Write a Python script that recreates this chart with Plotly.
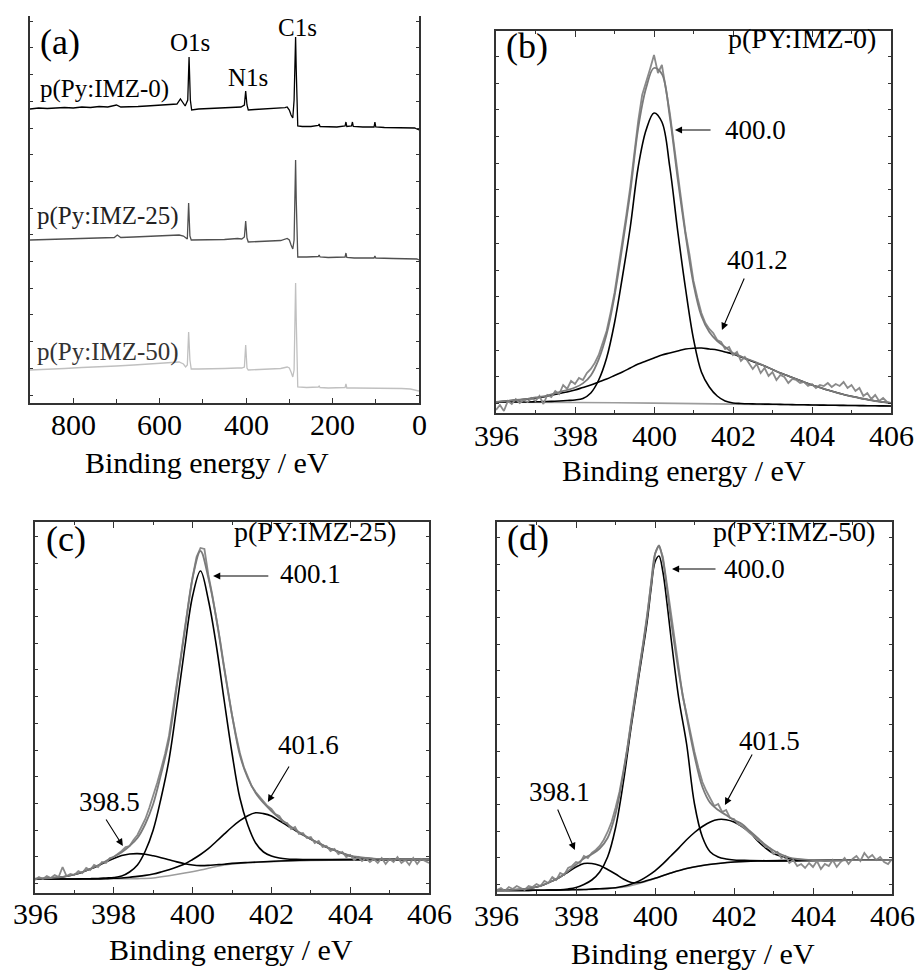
import plotly.graph_objects as go

FONT = "Liberation Serif, Times New Roman, serif"
W, H = 919, 972

# ---------------- Panel (a): survey spectra ----------------
sv0_x = [900, 880, 860, 840, 820, 800, 780, 760, 740, 720, 700, 690, 670, 650, 630, 610, 590, 570, 560, 552, 545, 541, 535, 532, 529, 526,
         510, 490, 470, 450, 430, 412, 404, 401, 398, 395, 380, 360, 340, 320, 310, 305, 300, 296, 292, 289, 287, 285.5, 284, 282.5, 280.5,
         270, 250, 233, 231, 229, 210, 190, 171, 169, 167, 156, 154, 152, 130, 104, 102, 100, 80, 60, 40, 20, 10, 5, 0]
sv0_y = [294, 295, 294.5, 295, 295.5, 295, 296, 295.5, 296.5, 296, 298, 296, 296, 296.5, 297, 297.5, 297.5, 298, 299, 304, 300, 297, 303, 346, 303, 293,
         294, 294.5, 295, 295, 295.5, 296, 298, 312, 298, 293, 293.5, 294, 294.5, 294.5, 295.3, 296, 293, 288, 285, 303, 343, 366, 333, 293, 277,
         276.5, 276.5, 277.5, 279, 276.5, 276, 276, 277, 281, 276.5, 277, 281, 276.5, 276, 276, 281, 276, 275.5, 275.5, 275, 275.5, 275, 274, 273]

sv25_x = [900, 860, 820, 780, 740, 705, 698, 690, 660, 620, 580, 555, 545, 540, 536, 533, 530, 527, 510, 480, 450, 420, 410, 404, 401, 398, 395,
          370, 340, 320, 305, 300, 296, 292, 289, 287, 285.5, 284, 282.5, 280.5, 260, 233, 231, 229, 210, 171, 169, 167, 150, 104, 102, 100,
          60, 20, 5, 0]
sv25_y = [163, 163.5, 164, 164.5, 165, 165.5, 168, 165.5, 166, 166.5, 167, 168, 167, 165, 164, 200, 167, 163, 163, 163.5, 163.5, 164.5, 164, 166, 182, 165, 161,
          161.5, 162, 162.5, 164.5, 163, 158, 154, 163, 203, 243, 203, 158, 146, 146, 146.5, 148, 146, 145.5, 146, 150, 145.5, 145, 145, 147, 145,
          144.5, 144.5, 144, 143]

sv50_x = [900, 860, 820, 780, 740, 700, 660, 620, 580, 555, 545, 540, 536, 533, 530, 527, 510, 480, 450, 420, 410, 404, 401, 398, 395,
          370, 340, 320, 305, 300, 296, 292, 289, 287, 285.5, 284, 282.5, 280.5, 260, 233, 231, 229, 210, 171, 169, 167, 150, 120, 80, 40, 20, 5, 0]
sv50_y = [33, 33.5, 34.5, 35.5, 36, 37, 38, 39, 40, 41, 39, 36, 38, 71, 43, 34, 34, 34, 34.5, 35, 35, 36, 58, 35, 33,
          33.5, 34, 34.5, 36, 35, 31, 26, 33, 83, 120, 83, 28, 16, 15.5, 16, 17, 15.5, 15, 15.5, 19, 15, 15, 15, 14.5, 14.5, 14, 13, 12]

# ---------------- common energy grids ----------------
E01 = [round(396 + 0.1 * i, 1) for i in range(101)]
E02 = [round(396 + 0.2 * i, 1) for i in range(51)]

# ---------------- Panel (b): p(PY:IMZ-0) ----------------
b_raw = [3, 8, 2, 12, 9, 14, 10, 13, 11, 15, 12, 17, 9, 18, 16, 22, 19, 28, 24, 32,
         29, 35, 33, 40, 44, 50, 58, 70, 82, 100, 120, 146, 170, 198, 226, 262, 292, 318, 330, 344,
         358, 340, 348, 326, 300, 270, 238, 210, 180, 158, 132, 115, 100, 90, 84, 80, 73, 71, 64, 66,
         58, 61, 52, 56, 50, 44, 49, 40, 45, 37, 41, 33, 38, 36, 30, 34, 33, 30, 31, 27,
         29, 25, 28, 27, 30, 26, 29, 27, 31, 25, 28, 22, 25, 17, 20, 14, 18, 12, 15, 11, 10]
b_env = [11, 11.8, 12.6, 13.4, 14.2, 15.5, 16.7, 18.7, 20.9, 23, 25.5, 29.6, 37.6, 53.7, 78.7, 117, 167, 221, 285, 325,
         345, 339, 296, 234, 178, 129, 97, 81, 72, 66, 60, 56.7, 53.5, 50.5, 47, 43.5, 40, 37, 34, 31,
         28, 25.5, 23, 20.7, 18.5, 16.7, 15, 13.5, 12, 11, 10]
b_main = [11, 11, 11, 11, 11, 11.2, 11.4, 11.6, 12, 12.5, 13, 14.5, 20, 33, 55, 90, 136, 186, 246, 283,
          300, 291, 246, 182, 124, 74, 41, 26, 17, 12, 10, 9.5, 9.2, 9, 8.9, 8.8, 8.6, 8.5, 8.3, 8.2,
          8, 7.9, 7.8, 7.7, 7.6, 7.5, 7.4, 7.3, 7.2, 7.1, 7]
b_broad = [11, 11.7, 12.5, 13.2, 14, 15, 16, 17.7, 19.5, 21, 23, 25.5, 28, 31, 34, 37.5, 41, 45, 49, 52,
           55, 58, 60, 62, 64, 64.8, 65, 64, 63, 61, 59, 56, 53, 50, 47, 43.5, 40, 37, 34, 31,
           28, 25.5, 23, 20.7, 18.5, 16.7, 15, 13.5, 12, 11, 10]
b_base_x = [396, 398, 400, 402, 404, 406]
b_base = [11, 10.5, 9.9, 8.9, 8, 7]

# ---------------- Panel (c): p(PY:IMZ-25) ----------------
c_raw = [13, 16, 14, 17, 15, 18, 16, 26, 17, 19, 18, 22, 20, 25, 23, 28, 26, 31, 30, 35,
         36, 39, 42, 46, 47, 53, 58, 66, 74, 85, 97, 110, 124, 139, 157, 182, 210, 236, 264, 290,
         316, 336, 345, 344, 318, 298, 277, 252, 226, 200, 178, 158, 140, 126, 116, 107, 101, 96, 91, 87,
         84, 79, 77, 71, 70, 64, 66, 59, 60, 55, 56, 50, 52, 46, 47, 42, 44, 39, 41, 36,
         38, 33, 36, 32, 35, 31, 34, 30, 35, 29, 34, 31, 36, 30, 33, 28, 35, 29, 34, 32, 30]
c_env = [14.3, 14.5, 14.9, 15.6, 16.8, 18.5, 21, 24, 27.7, 32, 36.3, 40.8, 47, 55, 69, 89, 119, 153, 207, 262,
         315, 342, 315, 275, 225, 178, 138, 115, 100, 90, 82, 75, 69, 63.5, 58.5, 54, 50, 46, 43, 40,
         37.5, 36, 35, 34.3, 34, 33.8, 33.6, 33.5, 33.5, 33.5, 33.5]
c_main = [14, 14, 14, 14, 14, 14, 14.2, 14.3, 14.5, 15, 15.5, 17, 21, 28, 42, 63, 95, 133, 187, 245,
          297, 322, 293, 248, 193, 140, 95, 68, 50, 41, 37, 35, 34, 33.7, 33.5, 33.5, 33.5, 33.5, 33.5, 33.5,
          33.5, 33.5, 33.5, 33.5, 33.5, 33.5, 33.5, 33.5, 33.5, 33.5, 33.5]
c_small_x = [396.0, 396.2, 396.4, 396.6, 396.8, 397.0, 397.2, 397.4, 397.6, 397.8, 398.0, 398.2, 398.4, 398.6, 398.8, 399.0,
             399.2, 399.4, 399.6, 399.8, 400.0, 400.2, 400.4, 400.6, 400.8, 401.0, 401.4, 401.8, 402.4, 403.0, 404.0, 406.0]
c_small = [14.3, 14.5, 14.9, 15.6, 16.8, 18.5, 20.8, 23.9, 27.3, 31.1, 34.5, 37.4, 39, 39.4, 38.8, 37.2,
           35.3, 33.2, 31.1, 29.3, 28, 27.4, 27.6, 28.2, 28.8, 29.6, 30.5, 31.2, 32.3, 33, 33.4, 33.5]
c_broad = [14, 14, 14, 14, 14, 14, 14, 14.1, 14.1, 14.2, 14.7, 15, 15.8, 16.6, 17.6, 19, 21, 23.3, 26, 29,
           33.5, 38.5, 44.3, 51.5, 58.8, 66, 72.3, 77.3, 80.2, 79.4, 77, 72.2, 67.5, 62.6, 58.1, 53.7, 49.7, 45.8, 42.8, 39.8,
           37, 35.5, 34.8, 34.2, 33.9, 33.7, 33.6, 33.5, 33.5, 33.5, 33.5]
c_base_x = [396, 397, 398, 398.6, 399, 399.4, 399.8, 400.2, 400.6, 401.0, 401.4, 401.8, 402.4, 403, 404, 406]
c_base = [14, 14, 14.2, 14.4, 15, 17.3, 20, 23, 26.5, 29, 30.3, 30.9, 32, 32.6, 33, 33.2]

# ---------------- Panel (d): p(PY:IMZ-50) ----------------
d_raw = [4, 6, 3, 7, 5, 8, 6, 4, 8, 7, 10, 8, 13, 11, 17, 14, 21, 19, 26, 28,
         32, 31, 38, 36, 41, 44, 48, 54, 62, 72, 86, 102, 123, 146, 174, 199, 225, 251, 279, 310,
         340, 349, 337, 310, 281, 252, 224, 198, 180, 160, 142, 126, 112, 103, 96, 88, 90, 82, 84, 76,
         75, 70, 68, 64, 61, 58, 54, 52, 47, 46, 40, 42, 36, 38, 31, 34, 28, 30, 26, 31,
         27, 33, 25, 30, 28, 34, 27, 32, 36, 30, 35, 38, 33, 41, 36, 39, 34, 37, 32, 30, 35]
d_env_x = [396.0, 396.2, 396.4, 396.6, 396.8, 397.0, 397.2, 397.4, 397.6, 397.8, 398.0, 398.2, 398.4, 398.6, 398.8, 399.0, 399.2, 399.4,
           399.6, 399.8, 399.9, 400.0, 400.1, 400.2, 400.3, 400.4, 400.6, 400.8, 401.0, 401.2, 401.4, 401.6, 401.8, 402.0, 402.2, 402.4,
           402.6, 402.8, 403.0, 403.2, 403.4, 403.6, 403.8, 404.0, 404.5, 405.0, 405.5, 406.0]
d_env = [3.8, 3.9, 4.1, 4.6, 5.5, 7.0, 9.5, 13.0, 17.1, 22.9, 29.3, 35.6, 39.8, 45.5, 56, 80, 121, 172,
         224, 277, 311, 340, 348, 334, 306, 275, 222, 178, 138, 107, 91, 84, 79, 74, 70, 63,
         56, 49, 43.5, 39.5, 36.5, 35, 34.3, 34, 33.8, 33.8, 33.9, 34]
d_main_x = [396.0, 396.4, 396.8, 397.2, 397.6, 397.8, 398.0, 398.2, 398.4, 398.6, 398.8, 399.0, 399.2, 399.4, 399.6, 399.8, 399.9,
            400.0, 400.1, 400.2, 400.3, 400.4, 400.6, 400.8, 401.0, 401.2, 401.4, 401.6, 401.8, 402.0, 402.2, 402.4, 402.8, 403.5,
            404.0, 405.0, 406.0]
d_main = [3.5, 3.55, 3.65, 3.8, 4.1, 5, 6.5, 9.5, 14, 22, 37, 66, 112, 168, 220, 272, 305,
          332, 338, 322, 292, 258, 196, 150, 90, 57, 42, 37, 35, 34, 33.7, 33.5, 33.3, 33.4,
          33.5, 33.8, 34]
d_small_x = [396.0, 396.2, 396.4, 396.6, 396.8, 397.0, 397.2, 397.4, 397.6, 397.8, 398.0, 398.2, 398.4, 398.6, 398.8, 399.0,
             399.2, 399.4, 399.6, 399.8, 400.0, 400.4, 400.8, 401.2, 401.6, 402.0, 402.6, 404.0, 406.0]
d_small = [3.8, 3.9, 4.1, 4.6, 5.5, 7, 9.5, 13, 17, 22, 27, 30.5, 30.5, 28.5, 24.5, 20,
           15, 11.5, 11.5, 13.5, 15.8, 21, 25.5, 28.5, 30.5, 32, 33, 33.5, 34]
d_broad = [3.5, 3.5, 3.55, 3.6, 3.65, 3.7, 3.8, 3.9, 4.0, 4.1, 4.3, 4.5, 4.9, 5.3, 5.6, 6.3, 7.7, 9.9, 13.1, 17.7,
           23.2, 30.1, 38, 45.9, 54.2, 61.5, 67.5, 72.1, 74.5, 74.3, 72, 67.4, 61.8, 53, 46, 40.5, 37.5, 35.5, 34.5, 34,
           33.8, 33.7, 33.6, 33.6, 33.7, 33.8, 33.8, 33.9, 33.9, 34, 34]
d_base_x = [396, 397, 398, 398.6, 399, 399.3, 399.6, 400.0, 400.4, 400.8, 401.2, 401.6, 402.0, 402.6, 404, 406]
d_base = [3.5, 3.7, 4.2, 5, 6, 7.5, 10.5, 15.5, 21, 25.5, 28.5, 30.5, 32, 33, 33.5, 34]

# tick labels
survey_ticks = [800, 600, 400, 200, 0]
n1s_ticks = [396, 398, 400, 402, 404, 406]

RAW_C = "#8a8a8a"
FIT_C = "#7a7a7a"
BASE_C = "#9c9c9c"

fig = go.Figure()

def line(x, y, xa, ya, color, width, shape="linear"):
    fig.add_trace(go.Scatter(x=x, y=y, xaxis=xa, yaxis=ya, mode="lines",
                             line=dict(color=color, width=width, shape=shape),
                             showlegend=False, hoverinfo="skip"))

# panel a
line(sv0_x, sv0_y, "x", "y", "#000000", 1.3)
line(sv25_x, sv25_y, "x", "y", "#505050", 1.3)
line(sv50_x, sv50_y, "x", "y", "#c0c0c0", 1.3)

# panel b
line(b_base_x, b_base, "x2", "y2", BASE_C, 1.6, "spline")
line(E02, b_broad, "x2", "y2", "#000000", 1.6, "spline")
line(E02, b_main, "x2", "y2", "#000000", 1.6, "spline")
line(E01, b_raw, "x2", "y2", RAW_C, 1.8)
line(E02, b_env, "x2", "y2", FIT_C, 1.8, "spline")

# panel c
line(c_base_x, c_base, "x3", "y3", BASE_C, 1.6, "spline")
line(c_small_x, c_small, "x3", "y3", "#000000", 1.6, "spline")
line(E02, c_broad, "x3", "y3", "#000000", 1.6, "spline")
line(E02, c_main, "x3", "y3", "#000000", 1.6, "spline")
line(E01, c_raw, "x3", "y3", RAW_C, 1.8)
line(E02, c_env, "x3", "y3", FIT_C, 1.8, "spline")

# panel d
line(d_base_x, d_base, "x4", "y4", BASE_C, 1.6, "spline")
line(d_small_x, d_small, "x4", "y4", "#000000", 1.6, "spline")
line(E02, d_broad, "x4", "y4", "#000000", 1.6, "spline")
line(d_main_x, d_main, "x4", "y4", "#000000", 1.6, "spline")
line(E01, d_raw, "x4", "y4", RAW_C, 1.8)
line(d_env_x, d_env, "x4", "y4", FIT_C, 1.8, "spline")

def px_dom(a, b):
    return [a / W, b / W]

def py_dom(top, bottom):
    return [1 - bottom / H, 1 - top / H]

AX = dict(showgrid=False, zeroline=False, showline=True, linecolor="#333333", linewidth=1.5,
          showticklabels=False, tickcolor="#333333", automargin=False)

layout = dict(
    width=W, height=H, margin=dict(l=0, r=0, t=0, b=0, pad=0, autoexpand=False),
    paper_bgcolor="white", plot_bgcolor="white", showlegend=False, autosize=False,
    font=dict(family=FONT, color="#000000"),
)

layout["xaxis"] = dict(AX, domain=px_dom(30, 419), range=[900, 0], anchor="y",
                       tickmode="array", tickvals=survey_ticks, ticks="inside", ticklen=5,
                       minor=dict(dtick=100, tick0=0, ticks="inside", ticklen=4, tickcolor="#333333"),
                       mirror=False)
for key, dom, anc in [("xaxis2", (496, 891), "y2"), ("xaxis3", (35, 429), "y3"), ("xaxis4", (497, 892), "y4")]:
    layout[key] = dict(AX, domain=px_dom(dom[0], dom[1]), range=[396, 406], anchor=anc,
                       tickmode="array", tickvals=n1s_ticks, ticks="inside", ticklen=6,
                       minor=dict(dtick=1, tick0=396, ticks="inside", ticklen=3, tickcolor="#333333"),
                       mirror="ticks")

layout["yaxis"] = dict(AX, domain=py_dom(16, 403), range=[0, 387], anchor="x",
                       ticks="inside", ticklen=3, dtick=26.7, tick0=8, mirror="ticks")
layout["yaxis2"] = dict(AX, domain=py_dom(31, 413), range=[0, 382], anchor="x2",
                        ticks="inside", ticklen=3, dtick=26.7, tick0=9.5, mirror="ticks")
layout["yaxis3"] = dict(AX, domain=py_dom(522, 893), range=[0, 371], anchor="x3",
                        ticks="inside", ticklen=3, dtick=26.7, tick0=9.5, mirror="ticks")
layout["yaxis4"] = dict(AX, domain=py_dom(522, 894), range=[0, 372], anchor="x4",
                        ticks="inside", ticklen=3, dtick=26.7, tick0=9.5, mirror="ticks")

fig.update_layout(**layout)

ann = []

def text(x, y, s, xr, yr, size, xanchor="center", color="#000000"):
    ann.append(dict(x=x, y=y, xref=xr, yref=yr, text=s, showarrow=False, xanchor=xanchor, yanchor="middle",
                    font=dict(family=FONT, size=size, color=color)))

def arrow(x, y, ax, ay, xr, yr):
    ann.append(dict(x=x, y=y, ax=ax, ay=ay, xref=xr, yref=yr, axref=xr, ayref=yr, text="",
                    showarrow=True, arrowhead=2, arrowsize=1.3, arrowwidth=1.1, arrowcolor="#000000",
                    standoff=0, startstandoff=0))

# tick labels (placed under each axis)
for v in survey_ticks:
    text(v, 1 - 424 / H, str(v), "x", "paper", 30)
for xr, cy in [("x2", 435), ("x3", 913), ("x4", 915)]:
    for v in n1s_ticks:
        text(v, 1 - cy / H, str(v), xr, "paper", 30)

# panel a labels
text(830, 361, "(a)", "x", "y", 36)
text(529.5, 361, "O1s", "x", "y", 25)
text(395.4, 326, "N1s", "x", "y", 25)
text(282, 376, "C1s", "x", "y", 25)
text(728, 314, "p(Py:IMZ-0)", "x", "y", 25)
text(720, 187, "p(Py:IMZ-25)", "x", "y", 25, color="#222222")
text(720, 51, "p(Py:IMZ-50)", "x", "y", 25, color="#333333")

# panel b
text(396.78, 367, "(b)", "x2", "y2", 36)
text(405.67, 374, "p(PY:IMZ-0)", "x2", "y2", 28, xanchor="right")
text(401.75, 283, "400.0", "x2", "y2", 27, xanchor="left")
arrow(400.53, 283, 401.47, 283, "x2", "y2")
text(402.63, 153, "401.2", "x2", "y2", 27)
arrow(401.72, 83, 402.30, 136, "x2", "y2")

# panel c
text(396.79, 354, "(c)", "x3", "y3", 36)
text(405.21, 362, "p(PY:IMZ-25)", "x3", "y3", 28, xanchor="right")
text(402.17, 319, "400.1", "x3", "y3", 27, xanchor="left")
arrow(400.52, 317, 401.96, 317, "x3", "y3")
text(402.93, 148, "401.6", "x3", "y3", 27)
arrow(401.91, 91, 402.47, 128, "x3", "y3")
text(397.88, 91, "398.5", "x3", "y3", 27)
arrow(398.23, 47, 397.78, 75, "x3", "y3")

# panel d
text(396.78, 356, "(d)", "x4", "y4", 36)
text(405.62, 363, "p(PY:IMZ-50)", "x4", "y4", 28, xanchor="right")
text(401.70, 325, "400.0", "x4", "y4", 27, xanchor="left")
arrow(400.43, 325, 401.57, 325, "x4", "y4")
text(402.91, 153, "401.5", "x4", "y4", 27)
arrow(401.77, 89, 402.48, 141, "x4", "y4")
text(397.57, 102, "398.1", "x4", "y4", 27)
arrow(397.97, 44, 397.52, 86, "x4", "y4")

# axis titles
for cx, cy in [(207, 463), (684, 470), (231, 949), (693, 953)]:
    ann.append(dict(x=cx / W, y=1 - cy / H, xref="paper", yref="paper", text="Binding energy / eV",
                    showarrow=False, xanchor="center", yanchor="middle",
                    font=dict(family=FONT, size=30, color="#000000")))

fig.update_layout(annotations=ann)
fig.write_html("out.html", config={"responsive": False, "displayModeBar": False},
               post_script="document.body.style.margin='0';document.body.style.overflow='hidden';")
